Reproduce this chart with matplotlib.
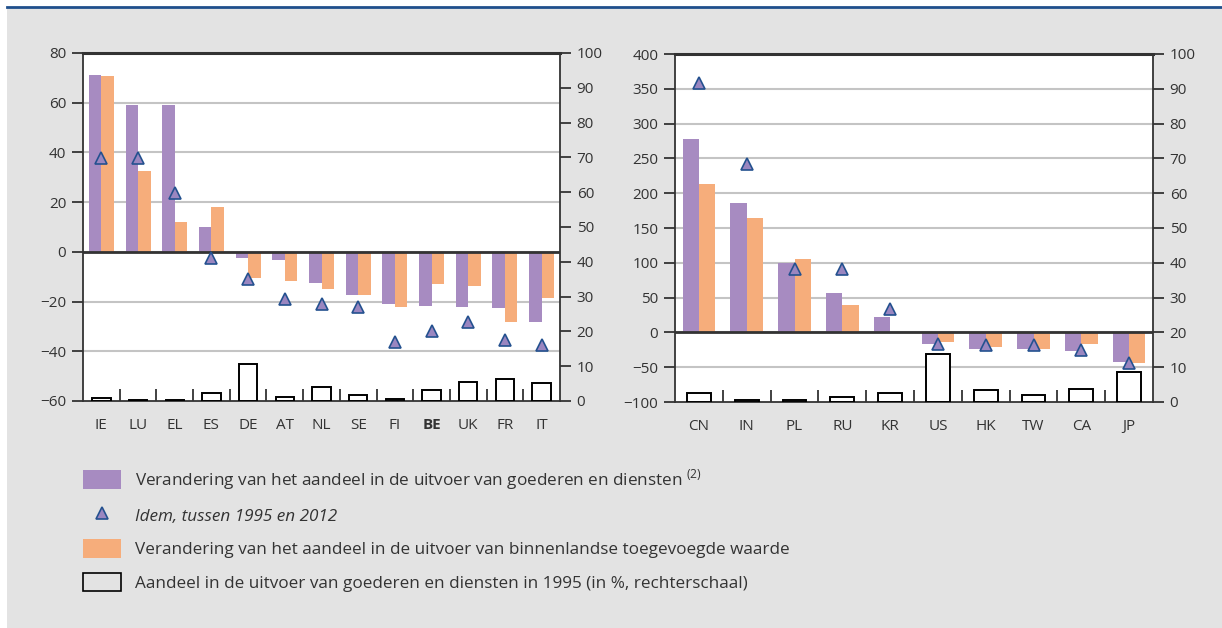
import numpy as np
import matplotlib
matplotlib.use("Agg")
import matplotlib.pyplot as plt
from matplotlib.patches import Patch
from matplotlib.lines import Line2D

plt.rcParams['font.family'] = ['Open Sans', 'DejaVu Sans']
plt.rcParams['font.size'] = 11

# %% data
eu_countries = ['IE', 'LU', 'EL', 'ES', 'DE', 'AT', 'NL', 'SE', 'FI', 'BE', 'UK', 'FR', 'IT']
eu_goods = [71.0, 59.0, 59.0, 9.9, -2.4, -3.2, -12.5, -17.4, -21.0, -21.7, -22.3, -22.5, -28.1]
eu_value_added = [70.6, 32.4, 11.9, 18.0, -10.5, -11.7, -15.0, -17.4, -22.3, -13.0, -13.8, -28.3, -18.5]
eu_goods_1995_2012 = [37.8, 37.8, 23.7, -2.3, -11.1, -18.8, -20.8, -22.1, -36.2, -31.8, -28.1, -35.4, -37.5]
eu_share_1995 = [1.0, 0.3, 0.3, 2.4, 10.5, 1.2, 4.1, 1.6, 0.7, 3.1, 5.6, 6.4, 5.1]

world_countries = ['CN', 'IN', 'PL', 'RU', 'KR', 'US', 'HK', 'TW', 'CA', 'JP']
world_goods = [278, 186, 100, 56, 21.5, -16.7, -23.9, -23.9, -26.8, -42.5]
world_value_added = [213.6, 164.9, 106, 40, 0, -13.9, -21, -23.9, -16.7, -44]
world_goods_1995_2012 = [359, 241.8, 91.8, 91.8, 34, -16.2, -18.6, -18.6, -26, -44.4]
world_share_1995 = [2.6, 0.7, 0.5, 1.3, 2.6, 13.9, 3.4, 2.1, 3.8, 8.6]

# %% style
purple = '#a78bc1'
orange = '#f6ad7b'
tri_face = '#9a86c0'
tri_edge = '#24518f'
grey_bg = '#e3e3e3'
dark = '#333333'


def draw_panel(rect, countries, goods, value_added, goods_long, share, ylim, yticks):
    ax = fig.add_axes(rect)
    x = np.arange(len(countries))
    w = 0.34
    ax.bar(x - w / 2, goods, width=w, color=purple, zorder=2)
    ax.bar(x + w / 2, value_added, width=w, color=orange, zorder=2)
    ax.axhline(0, color=dark, lw=2, zorder=3)
    ax.plot(x, goods_long, linestyle='none', marker='^', markersize=9,
            markerfacecolor=tri_face, markeredgecolor=tri_edge, markeredgewidth=1.2, zorder=4)
    ax.set_xlim(-0.5, len(countries) - 0.5)
    ax.set_ylim(*ylim)
    ax.set_yticks(yticks)
    for t in yticks[1:-1]:
        ax.axhline(t, color='#c4c4c4', lw=1.5, zorder=1)

    # category boundaries as ticks, labels on minor ticks
    ax.set_xticks(np.arange(len(countries) - 1) + 0.5)
    ax.set_xticklabels([])
    ax.set_xticks(x, minor=True)
    ax.set_xticklabels(countries, minor=True)
    ax.tick_params(axis='x', which='major', direction='in', length=9, width=1.3, color=dark)
    ax.tick_params(axis='x', which='minor', length=0, pad=12, labelcolor=dark)
    ax.tick_params(axis='y', direction='out', length=8, width=1.3, color=dark, labelcolor=dark, pad=4)
    for s in ax.spines.values():
        s.set_color(dark)
        s.set_linewidth(1.3)
    ax.spines['top'].set_linewidth(2.2)

    ax2 = ax.twinx()
    ax2.bar(x, share, width=0.5, facecolor='white', edgecolor='black', linewidth=1.4, zorder=2)
    ax2.set_ylim(0, 100)
    ax2.set_yticks(np.arange(0, 101, 10))
    ax2.tick_params(axis='y', direction='out', length=8, width=1.3, color=dark, labelcolor=dark, pad=4)
    for s in ax2.spines.values():
        s.set_visible(False)
    return ax


fig = plt.figure(figsize=(12.22, 6.28), dpi=100)
fig.patch.set_facecolor('white')
fig.patches.append(plt.Rectangle((7 / 1222, 0), 1, 1 - 8 / 628, transform=fig.transFigure,
                                 facecolor=grey_bg, edgecolor='none', zorder=-10))
fig.add_artist(Line2D([7 / 1222, 1], [1 - 6.5 / 628, 1 - 6.5 / 628], transform=fig.transFigure,
                      color='#1f4f8c', lw=2))

ax_eu = draw_panel([83 / 1222, 1 - 401 / 628, 477 / 1222, 348 / 628],
                   eu_countries, eu_goods, eu_value_added, eu_goods_1995_2012, eu_share_1995,
                   (-60, 80), np.arange(-60, 81, 20))
for lbl in ax_eu.get_xticklabels(minor=True):
    if lbl.get_text() == 'BE':
        lbl.set_fontweight('bold')

draw_panel([675 / 1222, 1 - 402 / 628, 478 / 1222, 348 / 628],
           world_countries, world_goods, world_value_added, world_goods_1995_2012, world_share_1995,
           (-100, 400), np.arange(-100, 401, 50))

# %% legend
handles = [
    Patch(facecolor=purple, edgecolor='none'),
    Line2D([], [], linestyle='none', marker='^', markersize=8,
           markerfacecolor=tri_face, markeredgecolor=tri_edge, markeredgewidth=1.2),
    Patch(facecolor=orange, edgecolor='none'),
    Patch(facecolor='none', edgecolor='black', linewidth=1.2),
]
labels = [
    'Verandering van het aandeel in de uitvoer van goederen en diensten $^{\\mathregular{(2)}}$',
    'Idem, tussen 1995 en 2012',
    'Verandering van het aandeel in de uitvoer van binnenlandse toegevoegde waarde',
    'Aandeel in de uitvoer van goederen en diensten in 1995 (in %, rechterschaal)',
]
leg = fig.legend(handles, labels, loc='upper left', bbox_to_anchor=(83 / 1222, 1 - 467 / 628),
                 frameon=False, borderpad=0, borderaxespad=0, handlelength=2.22, handleheight=1.29,
                 handletextpad=0.82, labelspacing=0.84, fontsize=12.3)
for t in leg.get_texts():
    t.set_color(dark)
leg.get_texts()[1].set_style('italic')

fig.savefig('out.png', dpi=100, facecolor=fig.get_facecolor())
